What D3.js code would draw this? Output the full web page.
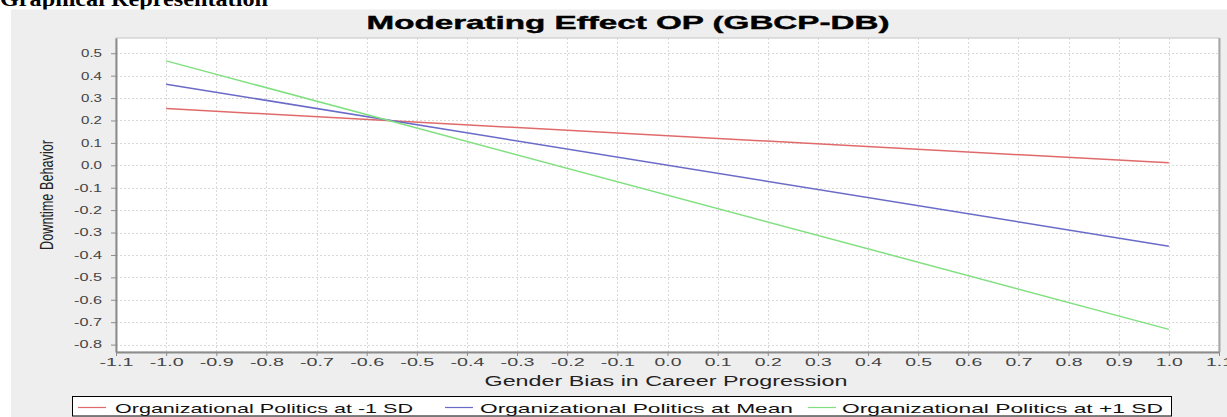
<!DOCTYPE html>
<html>
<head>
<meta charset="utf-8">
<script src="https://cdn.jsdelivr.net/npm/d3@7"></script>
<style>
  html, body { margin: 0; padding: 0; background: #ffffff; }
  svg { display: block; }
  text { font-family: "Liberation Sans", Arial, sans-serif; }
</style>
</head>
<body>
<svg id="chart" width="1227" height="417"></svg>
<script>
// Simple-slope data: predicted Downtime Behavior at two levels of
// Gender Bias in Career Progression for three levels of Organizational Politics.
const xPoints = [-1.0, 1.0];
const seriesNames = [
  "Organizational Politics at -1 SD",
  "Organizational Politics at Mean",
  "Organizational Politics at +1 SD"
];
const lowOP = [0.253, 0.011];
const meanOP = [0.362, -0.361];
const highOP = [0.466, -0.732];
const seriesColors = ["#e06a6a", "#6a6ac8", "#80e080"];

const xTickLabels = ["-1.1", "-1.0", "-0.9", "-0.8", "-0.7", "-0.6", "-0.5", "-0.4", "-0.3", "-0.2", "-0.1",
                     "0.0", "0.1", "0.2", "0.3", "0.4", "0.5", "0.6", "0.7", "0.8", "0.9", "1.0", "1.1"];
const yTickLabels = ["0.5", "0.4", "0.3", "0.2", "0.1", "0.0", "-0.1", "-0.2", "-0.3", "-0.4",
                     "-0.5", "-0.6", "-0.7", "-0.8"];

const chartTitle = "Moderating Effect OP (GBCP-DB)";
const xTitle = "Gender Bias in Career Progression";
const yTitle = "Downtime Behavior";
const pageHeading = "Graphical Representation";

const svg = d3.select("#chart");

// layout
const plot = { left: 116, right: 1219, top: 38, bottom: 352 };

const x = d3.scaleLinear().domain([-1.1, 1.1]).range([plot.left, plot.right]);
const y = d3.scaleLinear().domain([-0.833, 0.568]).range([plot.bottom, plot.top]);

// heading above the chart panel
svg.append("text")
  .attr("x", 0).attr("y", 6)
  .attr("font-weight", "bold")
  .attr("font-size", 20)
  .attr("textLength", 268)
  .attr("lengthAdjust", "spacingAndGlyphs")
  .attr("fill", "#000")
  .style("font-family", "'Liberation Serif', 'Times New Roman', serif")
  .text(pageHeading);

// chart panel
svg.append("rect")
  .attr("x", 11).attr("y", 9.5)
  .attr("width", 1227 - 11).attr("height", 417 - 9.5)
  .attr("fill", "#eeeeee");

// title
svg.append("text")
  .attr("x", 628).attr("y", 28.5)
  .attr("text-anchor", "middle")
  .attr("font-weight", "bold")
  .attr("font-size", 18.5)
  .attr("textLength", 523)
  .attr("lengthAdjust", "spacingAndGlyphs")
  .attr("fill", "#000")
  .attr("stroke", "#000")
  .attr("stroke-width", 0.4)
  .text(chartTitle);

// plot background
svg.append("rect")
  .attr("x", plot.left).attr("y", plot.top)
  .attr("width", plot.right - plot.left).attr("height", plot.bottom - plot.top)
  .attr("fill", "#ffffff")
  .attr("stroke", "#c4c4c4")
  .attr("stroke-width", 1);

// right frame edge
svg.append("line")
  .attr("x1", plot.right + 0.5).attr("x2", plot.right + 0.5)
  .attr("y1", plot.top).attr("y2", plot.bottom)
  .attr("stroke", "#a8a8a8").attr("stroke-width", 2);

const xTickValues = xTickLabels.map(Number);
const yTickValues = yTickLabels.map(Number);

// grid
const grid = svg.append("g")
  .attr("stroke", "#d9d9d9")
  .attr("stroke-width", 1)
  .attr("stroke-dasharray", "2,2");

grid.selectAll("line.vx")
  .data(xTickValues.slice(1, -1))
  .join("line")
  .attr("x1", d => Math.round(x(d)) + 0.5).attr("x2", d => Math.round(x(d)) + 0.5)
  .attr("y1", plot.top).attr("y2", plot.bottom);

grid.selectAll("line.hy")
  .data(yTickValues)
  .join("line")
  .attr("x1", plot.left).attr("x2", plot.right)
  .attr("y1", d => Math.round(y(d)) + 0.5).attr("y2", d => Math.round(y(d)) + 0.5);

// axes
const labelWidth = s => (s.startsWith("-") ? 34 : 27);

const xAxis = d3.axisBottom(x)
  .tickValues(xTickValues)
  .tickFormat((d, i) => xTickLabels[i])
  .tickSize(4)
  .tickSizeOuter(0)
  .tickPadding(3);

const gx = svg.append("g")
  .attr("transform", `translate(0,${plot.bottom})`)
  .call(xAxis);
gx.select(".domain").attr("stroke", "#8c8c8c").attr("stroke-width", 2);
gx.selectAll(".tick line").attr("stroke", "#8c8c8c");
gx.selectAll(".tick text")
  .attr("font-size", 10.5)
  .attr("fill", "#444")
  .attr("font-family", "'Liberation Sans', Arial, sans-serif")
  .attr("textLength", (d, i) => labelWidth(xTickLabels[i]))
  .attr("lengthAdjust", "spacingAndGlyphs");

const yAxis = d3.axisLeft(y)
  .tickValues(yTickValues)
  .tickFormat((d, i) => yTickLabels[i])
  .tickSize(5)
  .tickSizeOuter(0)
  .tickPadding(9);

const gy = svg.append("g")
  .attr("transform", `translate(${plot.left},0)`)
  .call(yAxis);
gy.select(".domain").attr("stroke", "#8c8c8c").attr("stroke-width", 2);
gy.selectAll(".tick line").attr("stroke", "#8c8c8c");
gy.selectAll(".tick text")
  .attr("font-size", 10.5)
  .attr("fill", "#444")
  .attr("font-family", "'Liberation Sans', Arial, sans-serif")
  .attr("textLength", (d, i) => labelWidth(yTickLabels[i]) - 6)
  .attr("lengthAdjust", "spacingAndGlyphs");

// axis titles
svg.append("text")
  .attr("x", 666).attr("y", 385.5)
  .attr("text-anchor", "middle")
  .attr("font-size", 14)
  .attr("textLength", 363)
  .attr("lengthAdjust", "spacingAndGlyphs")
  .attr("fill", "#222")
  .text(xTitle);

svg.append("text")
  .attr("transform", "translate(53,195) rotate(-90)")
  .attr("text-anchor", "middle")
  .attr("font-size", 19)
  .attr("textLength", 110)
  .attr("lengthAdjust", "spacingAndGlyphs")
  .attr("fill", "#222")
  .text(yTitle);

// series lines
const seriesValues = [lowOP, meanOP, highOP];
const line = d3.line()
  .x((d, i) => x(xPoints[i]))
  .y(d => y(d));

svg.append("g")
  .selectAll("path")
  .data(seriesValues)
  .join("path")
  .attr("d", d => line(d))
  .attr("fill", "none")
  .attr("stroke", (d, i) => seriesColors[i])
  .attr("stroke-width", 1.5);

// legend
svg.append("rect")
  .attr("x", 72.5).attr("y", 396.5)
  .attr("width", 1099).attr("height", 19.5)
  .attr("fill", "#ffffff")
  .attr("stroke", "#000")
  .attr("stroke-width", 1);

const legendItems = [
  { lineX: 78, textX: 115, textW: 298 },
  { lineX: 445, textX: 480, textW: 313 },
  { lineX: 808, textX: 842, textW: 321 }
];

const legend = svg.append("g")
  .selectAll("g")
  .data(seriesNames)
  .join("g");

legend.append("line")
  .attr("x1", (d, i) => legendItems[i].lineX)
  .attr("x2", (d, i) => legendItems[i].lineX + 28)
  .attr("y1", 407.5).attr("y2", 407.5)
  .attr("stroke", (d, i) => seriesColors[i])
  .attr("stroke-width", 1.2);

legend.append("text")
  .attr("x", (d, i) => legendItems[i].textX)
  .attr("y", 412.5)
  .attr("font-size", 13)
  .attr("textLength", (d, i) => legendItems[i].textW)
  .attr("lengthAdjust", "spacingAndGlyphs")
  .attr("fill", "#111")
  .text(d => d);
</script>
</body>
</html>
